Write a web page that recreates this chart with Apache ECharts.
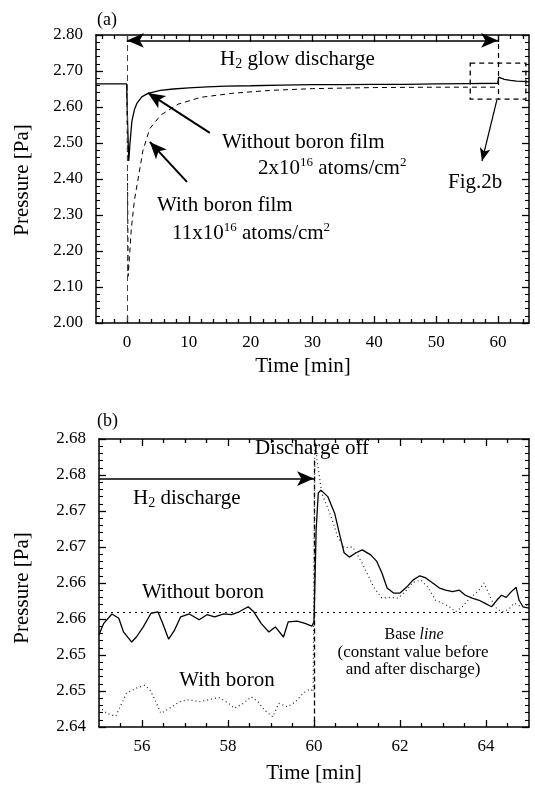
<!DOCTYPE html>
<html><head><meta charset="utf-8">
<script src="https://cdn.jsdelivr.net/npm/echarts@6/dist/echarts.min.js"></script>
<style>html,body{margin:0;padding:0;background:#fff}#c{width:535px;height:786px}</style>
</head><body><div id="c"></div>
<script>
// ---------- data: panel (a) ----------
const topTimeWithout = [-5,-2,-0.05,0.1,0.3,0.5,0.8,1.2,1.6,2.4,3.4,5.4,7.5,10,13,16,20,25,30,35,40,45,50,55,59.95,60.1,60.5,61,62,63,64,65];
const topPresWithout = [2.664,2.664,2.664,2.56,2.45,2.50,2.56,2.592,2.61,2.628,2.638,2.646,2.650,2.653,2.656,2.658,2.659,2.661,2.662,2.662,2.663,2.663,2.664,2.665,2.666,2.683,2.680,2.677,2.674,2.672,2.671,2.670];
const topTimeWith = [0,0.1,0.2,0.4,0.7,1.2,1.8,2.6,3.7,5.5,8.3,12,17,23,30,40,50,60];
const topPresWith = [2.664,2.40,2.13,2.18,2.26,2.34,2.40,2.48,2.54,2.578,2.608,2.627,2.638,2.646,2.651,2.654,2.655,2.655];
// ---------- data: panel (b) ----------
const botTimeWithout = [55.0,55.11,55.3,55.46,55.57,55.76,55.87,56.03,56.21,56.37,56.48,56.62,56.76,56.9,57.1,57.33,57.51,57.69,57.9,58.08,58.26,58.47,58.6,58.77,58.95,59.1,59.29,59.4,59.61,59.79,59.95,60.0,60.05,60.1,60.16,60.32,60.48,60.59,60.7,60.82,60.98,61.12,61.32,61.46,61.58,61.7,61.85,62.0,62.15,62.3,62.46,62.6,62.76,62.92,63.06,63.22,63.38,63.52,63.68,63.84,63.97,64.13,64.25,64.36,64.47,64.59,64.7,64.77,64.86,65];
const botPresWithout = [2.6528,2.6544,2.6557,2.6551,2.6532,2.6518,2.6525,2.6539,2.6558,2.656,2.6544,2.6522,2.6535,2.6553,2.6557,2.6549,2.6556,2.6553,2.6557,2.6556,2.656,2.6567,2.656,2.6544,2.6532,2.6539,2.6525,2.6546,2.6547,2.6544,2.654,2.6546,2.6674,2.6725,2.6729,2.672,2.6697,2.6669,2.6642,2.6636,2.6642,2.6646,2.6639,2.663,2.6614,2.6593,2.6586,2.6586,2.6594,2.6604,2.661,2.6607,2.66,2.6593,2.659,2.6588,2.659,2.6583,2.6579,2.6576,2.6572,2.6567,2.6576,2.6583,2.658,2.6588,2.6594,2.6576,2.6567,2.6565];
const botTimeWith = [55.0,55.18,55.39,55.53,55.64,55.87,56.07,56.19,56.3,56.44,56.64,56.87,57.1,57.33,57.56,57.79,58.01,58.15,58.36,58.54,58.7,58.84,59.04,59.18,59.38,59.57,59.75,59.91,59.98,60.02,60.07,60.18,60.4,60.55,60.7,60.9,61.1,61.23,61.39,61.58,61.78,61.96,62.15,62.3,62.49,62.65,62.83,62.99,63.15,63.29,63.45,63.63,63.84,63.95,64.06,64.2,64.36,64.52,64.66,64.82,65];
const botPresWith = [2.6428,2.6419,2.6415,2.6433,2.6447,2.6454,2.6458,2.6451,2.6438,2.6419,2.6426,2.6435,2.6438,2.6435,2.6438,2.6441,2.6433,2.6426,2.6433,2.6442,2.6435,2.6424,2.6414,2.6433,2.6428,2.6435,2.6447,2.6453,2.6449,2.68,2.6771,2.6725,2.6692,2.6664,2.6649,2.665,2.663,2.6614,2.6594,2.6579,2.658,2.6579,2.659,2.6601,2.6604,2.6594,2.6576,2.6572,2.6567,2.656,2.6567,2.6579,2.659,2.66,2.6586,2.6567,2.656,2.6563,2.6572,2.6567,2.657];
// ---------- ticks ----------
const topXMajor = [0,10,20,30,40,50,60];
const topXMinor = [-4,-2,2,4,6,8,12,14,16,18,22,24,26,28,32,34,36,38,42,44,46,48,52,54,56,58,62,64];
const botXMajor = [56,58,60,62,64];
const botXMinor = [55.5,56.5,57,57.5,58.5,59,59.5,60.5,61,61.5,62.5,63,63.5,64.5];
const botYTickLabels = ['2.64','2.65','2.65','2.66','2.66','2.67','2.67','2.68','2.68'];
const baseLine = 2.656;

const FONT = 'Liberation Serif';
const zip = (a, b) => a.map((v, i) => [v, b[i]]);
const BLK = '#000';

function xAxes(grid, min, max, majors, minors) {
  const common = {gridIndex: grid, type: 'value', min, max, splitLine: {show: false}};
  const mk = (pos, main, vals, len, label) => Object.assign({}, common, {
    position: pos,
    axisLine: {show: main, onZero: false, lineStyle: {color: BLK, width: 1.5}},
    axisTick: {show: true, inside: true, length: len, customValues: vals, lineStyle: {color: BLK, width: 1.3}},
    axisLabel: label ? {show: true, customValues: majors, formatter: v => String(Math.round(v)),
      fontFamily: FONT, fontSize: 17, color: BLK, margin: 11} : {show: false}
  });
  return [mk('bottom', true, majors, 7, true), mk('bottom', false, minors, 4, false),
          mk('top', true, majors, 7, false), mk('top', false, minors, 4, false)];
}
function yAxes(grid, min, max, interval, fmt) {
  const mk = (pos, label) => ({
    gridIndex: grid, type: 'value', min, max, interval, position: pos,
    axisLine: {show: true, onZero: false, lineStyle: {color: BLK, width: 1.5}},
    axisTick: {show: true, inside: true, length: 7, lineStyle: {color: BLK, width: 1.3}},
    minorTick: {show: true, splitNumber: 5, length: 4, lineStyle: {color: BLK, width: 1.1}},
    axisLabel: label ? {show: true, formatter: fmt, fontFamily: FONT, fontSize: 17, color: BLK, margin: 13} : {show: false},
    splitLine: {show: false}
  });
  return [mk('left', true), mk('right', false)];
}

const arrowLine = (p1, p2, w, both) => [
  {coord: p1, symbol: both ? 'arrow' : 'none', symbolSize: [11, 17], lineStyle: {color: BLK, width: w, type: 'solid'}},
  {coord: p2, symbol: 'arrow', symbolSize: [11, 17]}
];
const plainLine = (p1, p2, w, type, color) => [
  {coord: p1, symbol: 'none', lineStyle: {color: color || BLK, width: w, type}},
  {coord: p2, symbol: 'none'}
];

const chart = echarts.init(document.getElementById('c'), null, {renderer: 'canvas'});

const txt = (x, y, text, size, opts) => Object.assign({
  type: 'text', x, y,
  style: Object.assign({text, fontFamily: FONT, fontSize: size, fill: BLK, align: 'left', verticalAlign: 'middle'}, (opts && opts.style) || {})
}, (opts && opts.el) || {});
const rich21 = {
  a: {fontFamily: FONT, fontSize: 21, lineHeight: 24, color: BLK},
  sup: {fontFamily: FONT, fontSize: 13, lineHeight: 12, verticalAlign: 'top', color: BLK},
  sub: {fontFamily: FONT, fontSize: 14, lineHeight: 12, verticalAlign: 'bottom', color: BLK}
};

chart.setOption({
  animation: false,
  backgroundColor: '#fff',
  grid: [
    {left: 96, top: 35, width: 433, height: 288},
    {left: 99, top: 439, width: 430, height: 288}
  ],
  xAxis: [].concat(xAxes(0, -5, 65, topXMajor, topXMinor), xAxes(1, 55, 65, botXMajor, botXMinor)),
  yAxis: [].concat(
    yAxes(0, 2.0, 2.8, 0.1, v => v.toFixed(2)),
    yAxes(1, 2.64, 2.68, 0.005, v => botYTickLabels[Math.round((v - 2.64) / 0.005)])
  ),
  series: [
    {
      type: 'line', xAxisIndex: 0, yAxisIndex: 0, data: zip(topTimeWithout, topPresWithout),
      showSymbol: false, symbol: 'none', clip: true, lineStyle: {color: BLK, width: 1.3},
      markLine: {
        silent: true, animation: false, label: {show: false}, symbol: ['none', 'none'],
        data: [
          plainLine([0, 2.8], [0, 2.0], 1, [6, 4], '#444'),
          plainLine([60, 2.8], [60, 2.622], 1.2, [5, 4]),
          arrowLine([0, 2.785], [60, 2.785], 1.5, true),
          arrowLine([13.4, 2.528], [3.4, 2.639], 2, false),
          arrowLine([9.7, 2.392], [3.7, 2.503], 2, false),
          [{coord: [59.8, 2.619], symbol: 'none', lineStyle: {color: BLK, width: 1.2, type: 'solid'}},
           {coord: [57.4, 2.45], symbol: 'arrow', symbolSize: [8, 13]}]
        ]
      },
      markArea: {
        silent: true,
        itemStyle: {color: 'rgba(0,0,0,0)', borderColor: BLK, borderWidth: 1.3, borderType: [5, 4]},
        data: [[{coord: [55.5, 2.722]}, {coord: [64.5, 2.622]}]]
      }
    },
    {
      type: 'line', xAxisIndex: 0, yAxisIndex: 0, data: zip(topTimeWith, topPresWith),
      showSymbol: false, symbol: 'none', clip: true, lineStyle: {color: BLK, width: 1, type: [5, 4]}
    },
    {
      type: 'line', xAxisIndex: 4, yAxisIndex: 2, data: zip(botTimeWithout, botPresWithout),
      showSymbol: false, symbol: 'none', clip: true, lineStyle: {color: BLK, width: 1.3},
      markLine: {
        silent: true, animation: false, label: {show: false}, symbol: ['none', 'none'],
        data: [
          plainLine([55, baseLine], [65, baseLine], 1.2, [2, 4]),
          plainLine([60, 2.677], [60, 2.64], 1.3, [5, 3]),
          arrowLine([55, 2.6745], [60, 2.6745], 1.5, false)
        ]
      }
    },
    {
      type: 'line', xAxisIndex: 4, yAxisIndex: 2, data: zip(botTimeWith, botPresWith),
      showSymbol: false, symbol: 'none', clip: true, lineStyle: {color: '#222', width: 1.2, type: [1, 3]}
    }
  ],
  graphic: [
    txt(97, 20, '(a)', 18),
    txt(220, 59, '{a|H}{sub|2}{a| glow discharge}', 21, {style: {rich: rich21}}),
    txt(222, 142, 'Without boron film', 21),
    txt(258, 168, '{a|2x10}{sup|16}{a| atoms/cm}{sup|2}', 21, {style: {rich: rich21}}),
    txt(157, 205, 'With boron film', 21),
    txt(172, 233, '{a|11x10}{sup|16}{a| atoms/cm}{sup|2}', 21, {style: {rich: rich21}}),
    txt(448, 182, 'Fig.2b', 21),
    txt(303, 366, 'Time [min]', 21, {style: {align: 'center'}}),
    txt(22, 180, 'Pressure [Pa]', 21, {style: {align: 'center'}, el: {rotation: Math.PI / 2}}),
    txt(97, 421, '(b)', 18),
    txt(312, 448, 'Discharge off', 21, {style: {align: 'center'}}),
    txt(133, 498, '{a|H}{sub|2}{a| discharge}', 21, {style: {rich: rich21}}),
    txt(203, 592, 'Without boron', 21, {style: {align: 'center'}}),
    txt(227, 680, 'With boron', 21, {style: {align: 'center'}}),
    txt(414, 635, '{n|Base }{i|line}', 17, {style: {align: 'center', rich: {
      n: {fontFamily: FONT, fontSize: 16, color: BLK},
      i: {fontFamily: FONT, fontSize: 16, fontStyle: 'italic', color: BLK}}}}),
    txt(413, 653, '(constant value before', 17, {style: {align: 'center'}}),
    txt(413, 670, 'and after discharge)', 17, {style: {align: 'center'}}),
    txt(314, 773, 'Time [min]', 21, {style: {align: 'center'}}),
    txt(22, 588, 'Pressure [Pa]', 21, {style: {align: 'center'}, el: {rotation: Math.PI / 2}})
  ]
});
</script></body></html>
